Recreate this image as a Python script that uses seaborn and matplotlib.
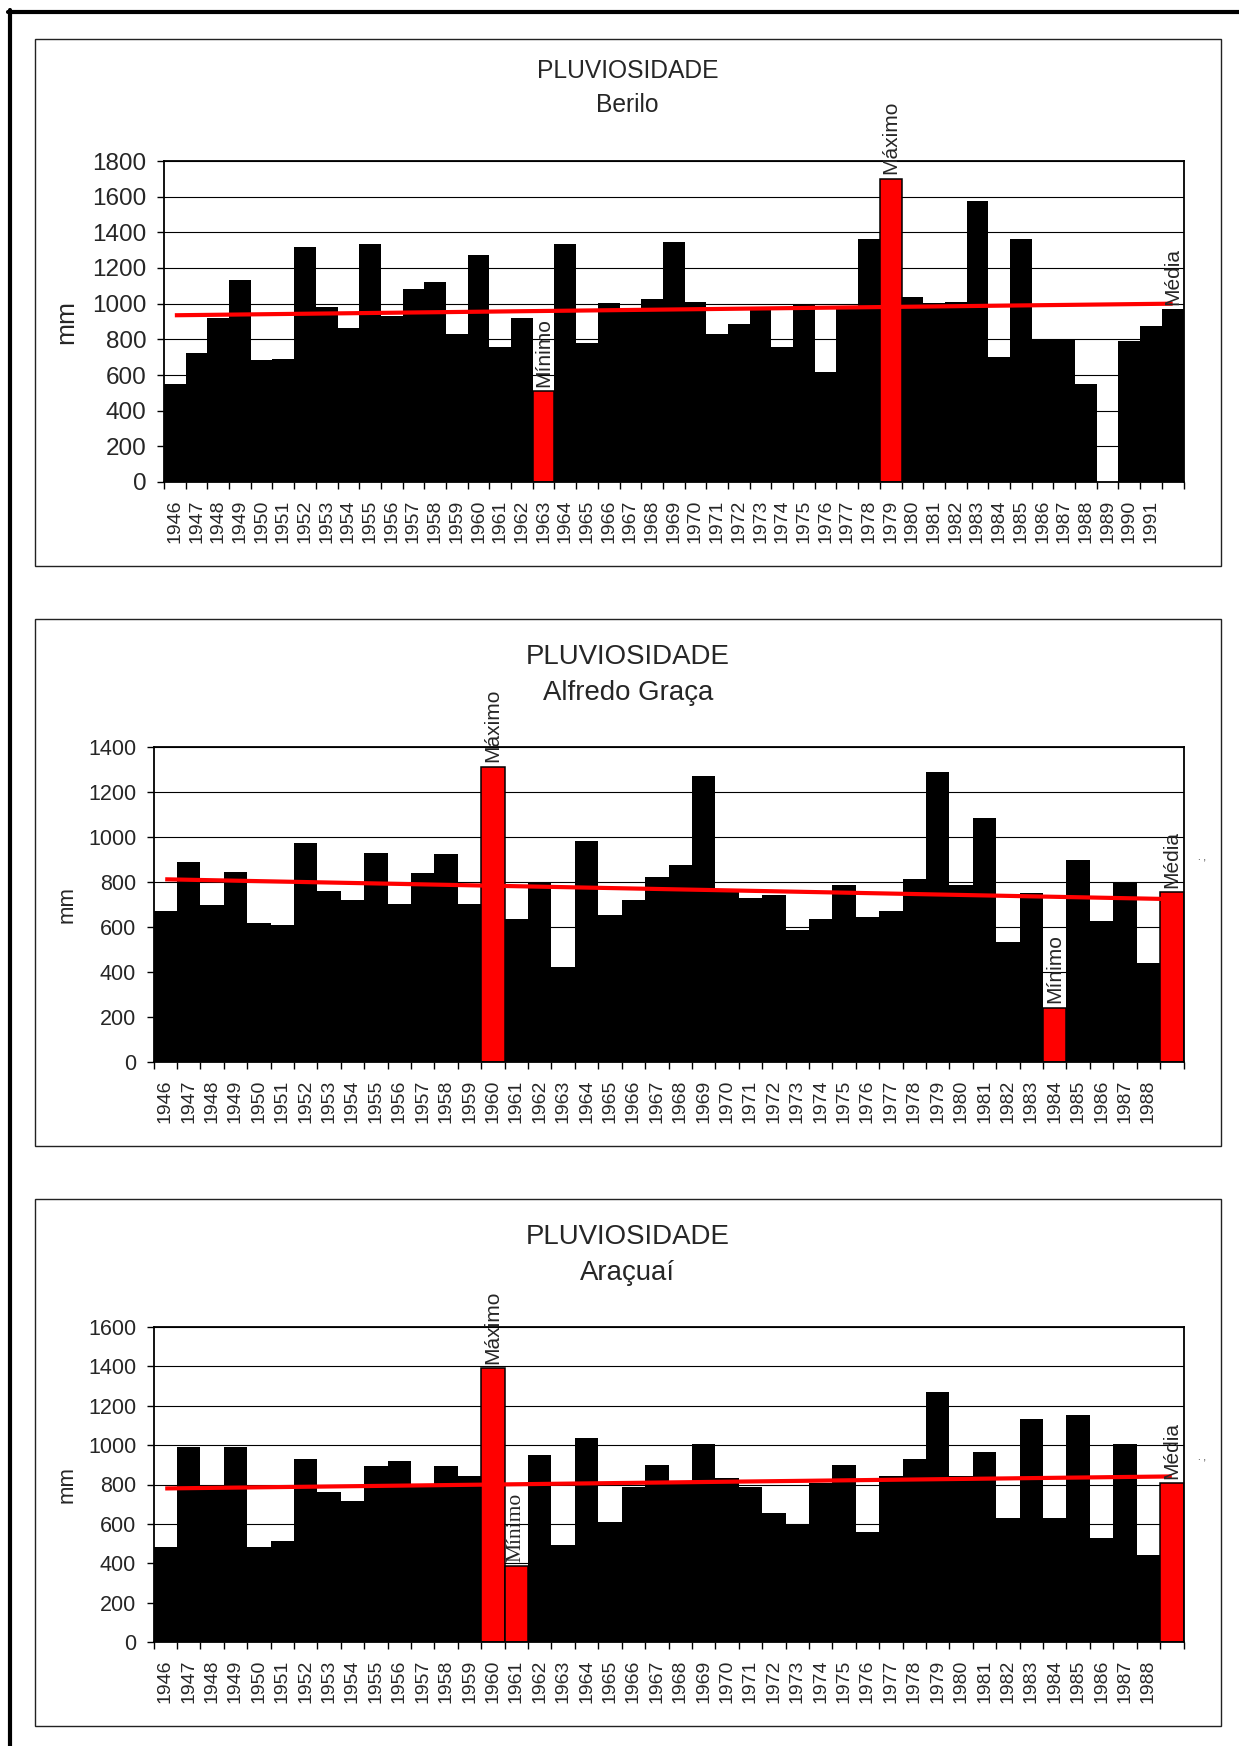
import numpy as np
import pandas as pd
import matplotlib
matplotlib.use("Agg")
import matplotlib.pyplot as plt
from matplotlib.patches import Rectangle
from matplotlib.lines import Line2D
import seaborn as sns

sns.set_style("white")
plt.rcParams["font.family"] = ["Liberation Sans", "DejaVu Sans"]

# ---------------- data ----------------
# Berilo, 1946-1991 + mean bar
berilo_years = [str(y) for y in range(1946, 1992)]
berilo_mm = [552, 724, 919, 1132, 682, 691, 1315, 981, 865, 1336,
             931, 1080, 1120, 832, 1273, 757, 917, 512, 1336, 778,
             1002, 975, 1025, 1348, 1012, 832, 885, 962, 759, 991,
             618, 985, 1360, 1701, 1037, 1004, 1012, 1574, 703, 1360,
             800, 800, 552, 0, 792, 877]
berilo_media = 971
berilo_trend = [935, 1000]

# Alfredo Graça, 1946-1988 + mean bar
alfredo_years = [str(y) for y in range(1946, 1989)]
alfredo_mm = [669, 889, 696, 846, 617, 609, 973, 762, 721, 930,
              702, 838, 923, 702, 1313, 635, 794, 421, 982, 652,
              721, 823, 874, 1273, 770, 730, 744, 586, 635, 786,
              644, 669, 814, 1291, 788, 1085, 532, 751, 242, 897,
              626, 802, 439]
alfredo_media = 756
alfredo_trend = [812, 724]

# Araçuaí, 1946-1988 + mean bar
aracuai_years = [str(y) for y in range(1946, 1989)]
aracuai_mm = [481, 988, 799, 988, 481, 511, 928, 762, 715, 892,
              918, 800, 892, 843, 1392, 386, 949, 491, 1035, 607,
              785, 899, 805, 1007, 832, 785, 657, 598, 806, 899,
              560, 843, 930, 1269, 843, 967, 628, 1135, 628, 1154,
              530, 1007, 442]
aracuai_media = 808
aracuai_trend = [780, 841]

W, H = 1239, 1746
fig = plt.figure(figsize=(W / 100, H / 100), dpi=100)


def fx(x):
    return x / W


def fy(y):
    return 1 - y / H


def panel(box, axbox, station, years, values, media, trend, ymax,
          red_years, red_media, notes, title_y, title_fs, ytick_fs, mm_fs, mm_x):
    # surrounding frame of the chart
    x0, y0, x1, y1 = box
    fig.add_artist(Rectangle((fx(x0), fy(y1)), fx(x1 - x0), (y1 - y0) / H,
                             transform=fig.transFigure, fill=False,
                             lw=1.0, ec="#222222"))
    l, t, r, b = axbox
    ax = fig.add_axes([fx(l), fy(b), fx(r - l), (b - t) / H])

    cats = years + ["Média"]
    vals = values + [media]
    colors = []
    for c in cats:
        if c in red_years or (c == "Média" and red_media):
            colors.append("#FF0000")
        else:
            colors.append("#000000")
    df = pd.DataFrame({"ano": cats, "mm": vals})
    sns.barplot(data=df, x="ano", y="mm", hue="ano", order=cats, hue_order=cats,
                palette=dict(zip(cats, colors)), width=1.0, saturation=1,
                legend=False, ax=ax)
    n = len(cats)
    for p in ax.patches:
        i = int(round(p.get_x() + p.get_width() / 2))
        if colors[i] == "#FF0000":
            p.set_edgecolor("black")
            p.set_linewidth(1.1)
        else:
            p.set_linewidth(0)

    # linear trend
    ax.plot([0, n - 1], trend, color="#FF0000", lw=3.0, zorder=4,
            solid_capstyle="butt")

    ax.set_xlim(-0.5, n - 0.5)
    ax.set_ylim(0, ymax)
    ax.set_yticks(np.arange(0, ymax + 1, 200))
    ax.yaxis.grid(True, color="black", lw=0.8)
    ax.set_axisbelow(True)
    ax.set_xticks(np.arange(n))
    ax.set_xticklabels(years + [""], rotation=90, fontsize=14)
    ax.set_xticks(np.arange(n + 1) - 0.5, minor=True)
    ax.tick_params(axis="x", which="major", length=0, pad=12.5)
    ax.tick_params(axis="x", which="minor", length=5, width=1, color="black",
                   direction="out", bottom=True)
    ax.tick_params(axis="y", length=5, width=1, color="black", pad=7.5,
                   labelsize=ytick_fs, direction="out", left=True)
    ax.set_xlabel("")
    ax.set_ylabel("")
    for s in ax.spines.values():
        s.set_color("black")
        s.set_linewidth(1.3)

    for lab, key, fam, fs in notes:
        if key == "Média":
            i, v = n - 1, media
        else:
            i = years.index(key)
            v = values[i]
        ax.annotate(lab, xy=(i, v), xytext=(0, 3), textcoords="offset points",
                    rotation=90, ha="center", va="bottom", fontsize=fs,
                    family=fam, annotation_clip=False, zorder=5)

    cx = (x0 + x1) / 2
    fig.text(fx(cx), fy(title_y[0]), "PLUVIOSIDADE", ha="center", va="baseline",
             fontsize=title_fs)
    fig.text(fx(cx), fy(title_y[1]), station, ha="center", va="baseline",
             fontsize=title_fs)
    fig.text(fx(mm_x), fy((t + b) / 2), "mm", rotation=90, ha="center",
             va="center", fontsize=mm_fs)
    return ax


sans = ["Liberation Sans", "DejaVu Sans"]
serif = ["Liberation Serif", "DejaVu Serif"]

panel((34.5, 39, 1221, 565.5), (164, 161, 1183.5, 482), "Berilo",
      berilo_years, berilo_mm, berilo_media, berilo_trend, 1800,
      ["1963", "1979"], False,
      [("Mínimo", "1963", sans, 15), ("Máximo", "1979", sans, 15),
       ("Média", "Média", sans, 15)],
      (78, 111.5), 17.7, 17.5, 19, 66)

panel((34.5, 618.5, 1221, 1145.5), (153.5, 747, 1183.5, 1062), "Alfredo Graça",
      alfredo_years, alfredo_mm, alfredo_media, alfredo_trend, 1400,
      ["1960", "1984"], True,
      [("Máximo", "1960", sans, 15), ("Mínimo", "1984", sans, 15),
       ("Média", "Média", sans, 15)],
      (663.5, 700), 19.9, 15.5, 16, 67.5)

panel((34.5, 1198.5, 1221, 1726), (153.5, 1327, 1183.5, 1642), "Araçuaí",
      aracuai_years, aracuai_mm, aracuai_media, aracuai_trend, 1600,
      ["1960", "1961"], True,
      [("Máximo", "1960", sans, 15), ("Mínimo", "1961", serif, 15.5),
       ("Média", "Média", sans, 15)],
      (1243.5, 1280), 19.9, 15.5, 16, 67.5)

# stray marks at the right of the lower charts
for yy in (860, 1460):
    fig.text(fx(1202), fy(yy), ". ,", ha="center", va="baseline", fontsize=7)

# page frame (top and left edges)
fig.add_artist(Line2D([fx(8), 1.0], [fy(11.5), fy(11.5)], lw=3, color="black",
                      transform=fig.transFigure))
fig.add_artist(Line2D([fx(10.3), fx(10.3)], [0.0, fy(10)], lw=3, color="black",
                      transform=fig.transFigure))

fig.savefig("out.png", dpi=100)
